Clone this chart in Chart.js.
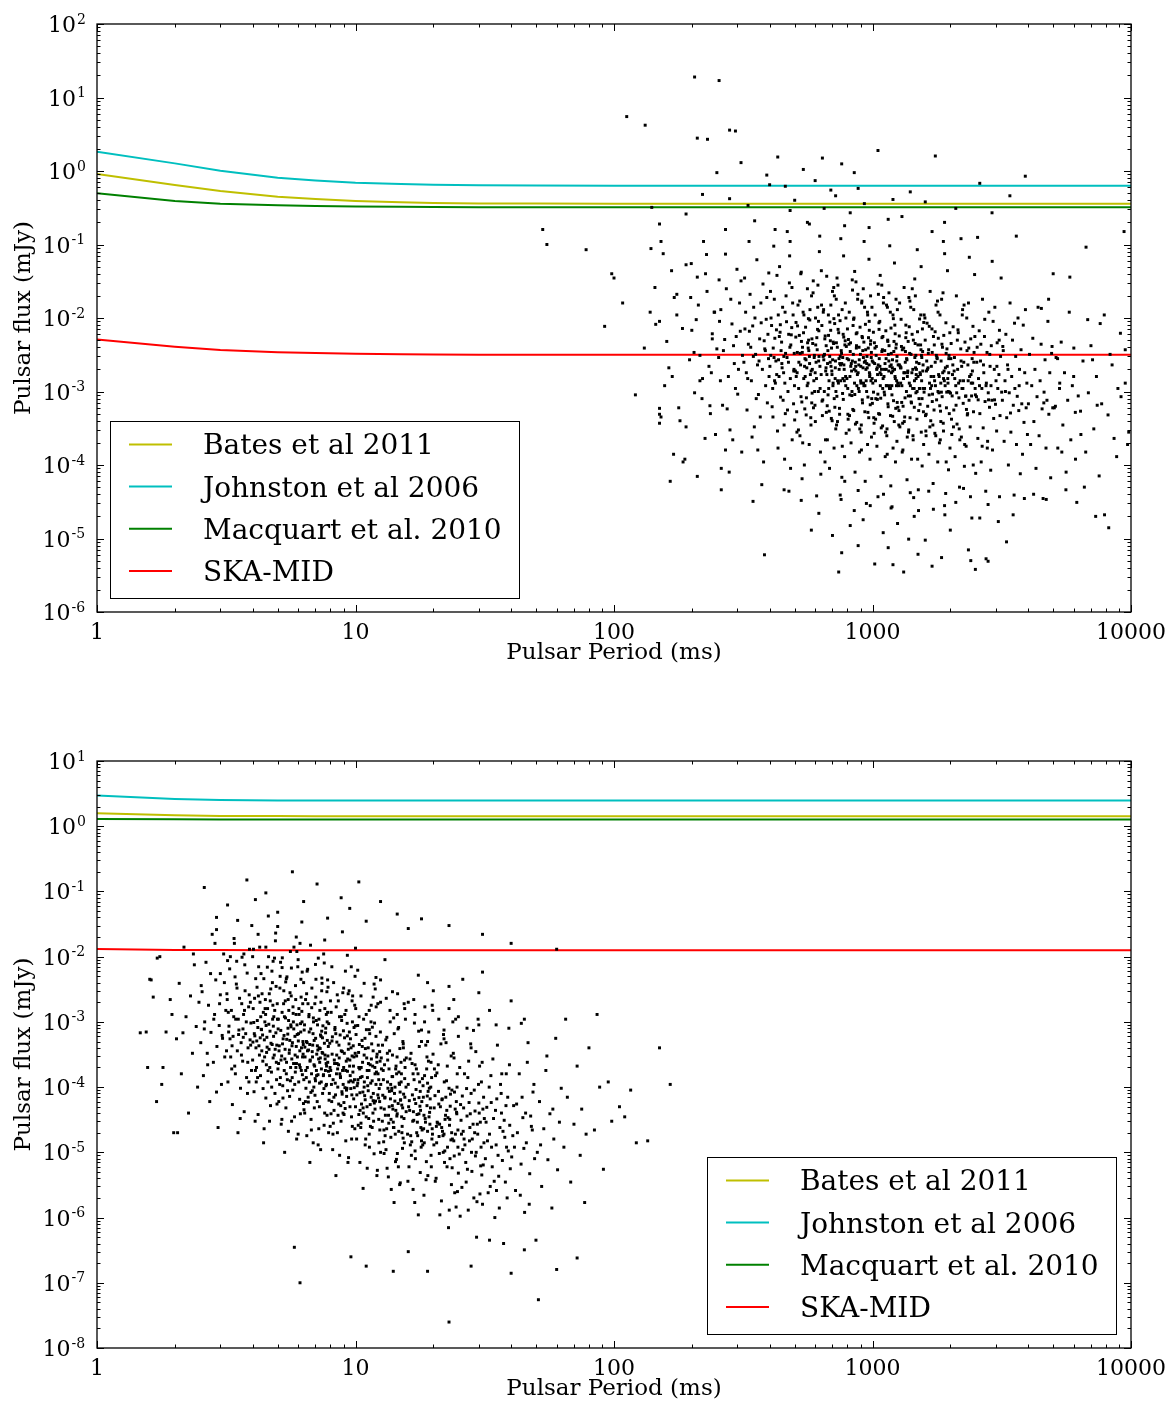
<!DOCTYPE html>
<html lang="en">
<head>
    <meta charset="UTF-8">
    <title>Pulsar flux vs period</title>
    <script src="https://cdn.jsdelivr.net/npm/chart.js"></script>
    <style>
        body { margin: 0; background: #fff; }
        .panel { position: absolute; left: 0; width: 1176px; }
        #topPanel { top: 0; height: 700px; }
        #bottomPanel { top: 700px; height: 703px; }
    </style>
</head>
<body>
    <div class="panel" id="topPanel"><canvas id="topChart" width="1176" height="700"></canvas></div>
    <div class="panel" id="bottomPanel"><canvas id="bottomChart" width="1176" height="703"></canvas></div>

    <script>
        // sensitivity curves, sampled at these periods (ms)
        const periods = [1, 2, 3, 5, 7, 10, 15, 20, 30, 50, 100, 10000];

        const topBates = [0.91, 0.645, 0.535, 0.447, 0.416, 0.391, 0.375, 0.367, 0.362, 0.36, 0.359, 0.358];
        const topJohnston = [1.83, 1.27, 1.01, 0.81, 0.74, 0.69, 0.665, 0.65, 0.64, 0.635, 0.632, 0.63];
        const topMacquart = [0.497, 0.391, 0.359, 0.341, 0.335, 0.33, 0.326, 0.324, 0.322, 0.321, 0.321, 0.32];
        const topSka = [5.1e-3, 4.07e-3, 3.67e-3, 3.41e-3, 3.33e-3, 3.27e-3, 3.21e-3, 3.18e-3, 3.16e-3, 3.15e-3, 3.15e-3, 3.15e-3];

        const bottomBates = [1.58, 1.47, 1.44, 1.43, 1.42, 1.42, 1.42, 1.42, 1.42, 1.42, 1.42, 1.42];
        const bottomJohnston = [2.95, 2.62, 2.53, 2.49, 2.48, 2.47, 2.47, 2.47, 2.47, 2.47, 2.47, 2.47];
        const bottomMacquart = [1.29, 1.275, 1.27, 1.27, 1.27, 1.27, 1.27, 1.27, 1.27, 1.27, 1.27, 1.27];
        const bottomSka = [0.0131, 0.0127, 0.0126, 0.0125, 0.0125, 0.0125, 0.0125, 0.0125, 0.0125, 0.0125, 0.0125, 0.0125];

        const legendLabels = ['Bates et al 2011', 'Johnston et al 2006', 'Macquart et al. 2010', 'SKA-MID'];
        const xDecades = [1, 10, 100, 1000, 10000];

        // simulated pulsars [period ms, flux mJy], upper panel
        const topPulsars = [
            [108,1.6e-2],[121,9.0e-4],[131,3.9e-3],[144,2.6e-2],[152,4.5e-4],[139,8.8e-2],[157,1.2e-3],
            [163,2.1e-3],[171,1.9e-2],[178,6.0e-4],[184,7.2e-3],[190,3.3e-4],[167,4.4e-2],[196,2.7e-3],[175,1.1e-2],[188,1.2e-4],[199,5.5e-2],
            [204,3.4e-3],[212,1.5e-2],[219,8.0e-4],[226,4.0e-2],[233,2.2e-3],[240,6.1e-3],[247,2.6e-4],[208,9.5e-3],[215,1.4e-3],[229,2.3e-2],
            [236,5.0e-4],[244,1.2e-2],[250,3.8e-3],[222,1.1e-1],[210,7.0e-5],[238,1.8e-3],
            [254,2.9e-3],[259,1.3e-2],[263,6.5e-4],[268,5.1e-3],[272,2.5e-2],[277,1.6e-3],[281,3.0e-4],[286,8.3e-3],[290,4.2e-3],[295,1.1e-3],
            [299,4.6e-2],[303,2.0e-3],[308,6.6e-3],[312,1.5e-4],[256,9.0e-3],[265,3.6e-3],[274,5.8e-4],[283,1.8e-2],[292,2.4e-3],[301,9.2e-4],
            [310,3.2e-2],[258,1.4e-3],[270,7.4e-2],[288,2.2e-4],[297,5.6e-3],[306,1.6e-2],[314,3.1e-3],[279,8.0e-5],
            [318,2.5e-3],[323,1.2e-2],[327,5.6e-4],[331,4.4e-3],[336,2.1e-2],[340,1.4e-3],[344,7.8e-3],[349,3.3e-4],[353,3.2e-3],[357,6.2e-2],
            [362,9.1e-4],[366,5.2e-3],[370,1.6e-2],[375,2.0e-3],[379,1.1e-4],[383,3.8e-3],[388,9.6e-3],[392,7.0e-4],[396,2.8e-3],[320,3.5e-2],
            [325,1.8e-3],[334,6.6e-3],[342,2.4e-4],[351,1.0e-2],[359,2.3e-3],[368,4.5e-4],[377,2.9e-2],[386,1.2e-3],[394,6.0e-3],[329,1.5e-3],
            [338,4.0e-3],[347,1.4e-2],[355,8.0e-4],[364,2.6e-3],[373,5.4e-5],[381,4.9e-3],[390,1.9e-2],[398,1.6e-3],[321,7.1e-3],[333,1.1e-1],
            [346,3.0e-3],[360,1.6e-4],[371,8.6e-3],[385,3.6e-3],[397,4.1e-2],
            [401,2.2e-3],[405,1.0e-2],[409,6.2e-4],[413,3.9e-3],[417,1.8e-2],[421,1.3e-3],[425,6.9e-3],[429,2.9e-4],[433,2.7e-3],[437,5.0e-2],
            [441,8.4e-4],[445,4.7e-3],[449,1.4e-2],[453,1.8e-3],[457,1.2e-4],[461,3.3e-3],[465,8.9e-3],[469,5.6e-4],[473,2.5e-3],[477,3.0e-2],
            [481,1.5e-3],[485,5.9e-3],[489,2.2e-4],[493,1.1e-2],[497,2.0e-3],[500,4.1e-4],[403,2.3e-2],[411,1.1e-3],[419,5.3e-3],[427,3.8e-2],
            [435,1.6e-3],[443,3.6e-3],[451,7.6e-4],[459,1.2e-2],[467,2.9e-3],[475,4.4e-5],[483,4.3e-3],[491,1.6e-2],[499,1.2e-3],[407,7.9e-3],
            [415,9.5e-2],[423,2.6e-3],[431,1.7e-4],[439,6.4e-3],[447,2.1e-3],[455,3.5e-4],[463,2.0e-2],[471,1.0e-3],[479,4.0e-3],[487,7.4e-3],
            [495,6.8e-4],[404,3.1e-3],[418,1.4e-3],[432,1.1e-2],[446,2.4e-3],[460,5.0e-4],[474,6.0e-3],[488,2.6e-2],[498,3.3e-3],[412,4.5e-4],
            [426,1.7e-3],[440,8.1e-3],[454,3.0e-3],[468,1.5e-1],[482,9.0e-5],[496,1.9e-3],[416,2.9e-3],[436,5.6e-3],[458,1.3e-3],[478,7.0e-2],
            [503,1.9e-3],[506,8.7e-3],[509,5.3e-4],[512,3.4e-3],[515,1.5e-2],[518,1.1e-3],[521,5.8e-3],[524,2.5e-4],[527,2.3e-3],[530,4.2e-2],
            [533,7.2e-4],[536,4.0e-3],[539,1.2e-2],[542,1.5e-3],[545,1.0e-4],[548,2.8e-3],[551,7.5e-3],[554,4.8e-4],[557,2.1e-3],[560,2.5e-2],
            [563,1.3e-3],[566,5.0e-3],[569,1.9e-4],[572,9.4e-3],[575,1.7e-3],[578,3.5e-4],[581,2.0e-2],[584,9.5e-4],[587,4.5e-3],[590,3.2e-2],
            [593,1.4e-3],[596,3.1e-3],[599,6.5e-4],[602,1.0e-2],[605,2.5e-3],[608,3.8e-5],[611,3.7e-3],[614,1.4e-2],[617,1.0e-3],[620,6.7e-3],
            [623,8.0e-2],[626,2.2e-3],[629,1.5e-4],[505,5.5e-3],[511,1.8e-3],[517,3.0e-4],[523,1.7e-2],[529,8.5e-4],[535,3.4e-3],[541,6.3e-3],
            [547,5.8e-4],[553,2.7e-3],[559,1.2e-3],[565,9.8e-3],[571,2.4e-3],[577,4.4e-4],[583,5.2e-3],[589,2.2e-2],[595,2.9e-3],[601,3.9e-4],
            [607,1.5e-3],[613,7.0e-3],[619,2.6e-3],[625,1.3e-1],[631,7.5e-5],[507,1.6e-3],[519,2.5e-3],[531,4.8e-3],[543,1.1e-2],[555,8.2e-4],
            [567,3.6e-3],[579,1.9e-3],[591,6.0e-4],[603,4.3e-3],[615,2.8e-2],[627,1.1e-3],[513,7.8e-3],[525,3.3e-3],[537,2.0e-4],[549,1.6e-3],
            [561,4.6e-3],[573,1.3e-2],[585,2.0e-3],[597,1.0e-3],[609,5.4e-3],[621,3.0e-3],[510,2.8e-4],[528,4.0e-2],[546,2.2e-3],[564,3.9e-3],
            [582,7.0e-4],[600,1.8e-3],[618,9.0e-3],[534,6.5e-5],[570,3.0e-3],
            [633,1.7e-3],[637,7.9e-3],[640,4.7e-4],[644,3.0e-3],[647,1.3e-2],[651,1.0e-3],[654,5.2e-3],[658,2.2e-4],[661,2.1e-3],[665,3.7e-2],
            [668,6.4e-4],[672,3.6e-3],[675,1.1e-2],[679,1.4e-3],[682,9.0e-5],[686,2.5e-3],[689,6.8e-3],[693,4.3e-4],[696,1.9e-3],[700,2.3e-2],
            [703,1.2e-3],[707,4.5e-3],[710,1.7e-4],[714,8.4e-3],[717,1.5e-3],[721,3.1e-4],[724,1.8e-2],[728,8.6e-4],[731,4.0e-3],[735,2.8e-2],
            [738,1.3e-3],[742,2.8e-3],[745,5.9e-4],[749,9.2e-3],[752,2.3e-3],[756,3.4e-5],[759,3.3e-3],[763,1.3e-2],[766,9.4e-4],[770,6.0e-3],
            [773,7.0e-2],[777,2.0e-3],[780,1.3e-4],[784,4.9e-3],[787,1.6e-3],[791,2.7e-4],[635,1.5e-2],[642,7.7e-4],[649,3.1e-3],[656,5.7e-3],
            [663,5.2e-4],[670,2.4e-3],[677,1.1e-3],[684,8.8e-3],[691,2.2e-3],[698,4.0e-4],[705,4.7e-3],[712,2.0e-2],[719,2.6e-3],[726,3.5e-4],
            [733,1.4e-3],[740,6.3e-3],[747,2.4e-3],[754,1.2e-1],[761,6.8e-5],[768,1.5e-3],[775,2.3e-3],[782,4.3e-3],[789,1.0e-2],[638,7.4e-4],
            [652,3.2e-3],[666,1.7e-3],[680,5.4e-4],[694,3.9e-3],[708,2.6e-2],[722,1.0e-3],[736,7.0e-3],[750,3.0e-3],[764,1.8e-4],[778,1.4e-3],
            [792,4.1e-3],[645,1.2e-2],[659,1.9e-3],[673,9.0e-4],[687,4.9e-3],[701,2.7e-3],[715,6.1e-4],[729,3.5e-2],[743,2.0e-3],[757,3.6e-3],
            [771,7.8e-4],[785,1.6e-2],[648,2.7e-3],[676,5.8e-3],[704,1.3e-3],[732,3.9e-4],[760,2.4e-3],[788,1.2e-3],[662,4.2e-3],[690,1.5e-2],
            [718,2.1e-3],[746,4.9e-4],[774,5.5e-3],[655,1.1e-4],[683,3.0e-3],[711,8.0e-4],[739,1.1e-2],[767,2.9e-3],[634,4.4e-2],[781,6.0e-5],
            [697,1.7e-3],[725,4.6e-3],[753,1.4e-3],[669,2.2e-4],[709,9.8e-3],
            [796,1.5e-3],[800,7.1e-3],[805,4.2e-4],[809,2.7e-3],[813,1.2e-2],[817,9.0e-4],[822,4.6e-3],[826,2.0e-4],[830,1.9e-3],[835,3.3e-2],
            [839,5.7e-4],[843,3.2e-3],[848,1.0e-2],[852,1.3e-3],[856,8.0e-5],[861,2.2e-3],[865,6.1e-3],[869,3.8e-4],[874,1.7e-3],[878,2.1e-2],
            [882,1.1e-3],[887,4.0e-3],[891,1.5e-4],[895,7.5e-3],[900,1.4e-3],[904,2.8e-4],[908,1.6e-2],[913,7.7e-4],[917,3.6e-3],[921,2.5e-2],
            [926,1.2e-3],[930,2.5e-3],[934,5.3e-4],[939,8.2e-3],[943,2.0e-3],[947,3.0e-5],[952,3.0e-3],[956,1.2e-2],[960,8.4e-4],[965,5.4e-3],
            [969,6.3e-2],[973,1.8e-3],[978,1.2e-4],[982,4.4e-3],[986,1.4e-3],[991,2.4e-4],[995,1.4e-2],[999,6.9e-4],[798,2.8e-3],[807,5.1e-3],
            [815,4.7e-4],[824,2.2e-3],[833,1.0e-3],[841,7.9e-3],[850,2.0e-3],[859,3.6e-4],[867,4.2e-3],[876,1.8e-2],[885,2.3e-3],[893,3.1e-4],
            [902,1.3e-3],[911,5.6e-3],[919,2.1e-3],[928,1.1e-1],[937,6.0e-5],[945,1.4e-3],[954,2.1e-3],[963,3.9e-3],[971,9.0e-3],[980,6.6e-4],
            [989,2.9e-3],[997,1.5e-3],[803,4.9e-4],[820,3.5e-3],[837,2.4e-2],[854,9.1e-4],[871,6.3e-3],[889,2.7e-3],[906,1.6e-4],[923,1.3e-3],
            [941,3.7e-3],[958,1.1e-2],[976,1.7e-3],[993,8.0e-4],[811,4.4e-3],[828,2.4e-3],[846,5.5e-4],[863,3.1e-2],[880,1.8e-3],[898,3.2e-3],
            [915,7.0e-4],[932,1.4e-2],[950,2.4e-3],[967,4.4e-4],[984,4.9e-3],[802,1.1e-3],[836,2.6e-3],[870,1.2e-3],[905,3.5e-4],[938,2.6e-3],
            [972,6.8e-3],[818,1.6e-3],[853,4.3e-2],[888,1.0e-3],[922,2.9e-3],[957,1.9e-4],[990,3.4e-3],[832,8.8e-4],[866,3.9e-3],[901,2.2e-3],
            [935,1.2e-3],[970,2.3e-3],[845,9.6e-3],[880,4.5e-5],[914,5.4e-3],[949,1.0e-3],[983,2.0e-2],[812,3.0e-4],[862,1.9e-3],[926,4.7e-3],
            [975,1.6e-3],[858,2.5e-3],[910,1.7e-2],[960,5.2e-4],[998,2.6e-3],
            [1003,1.3e-3],[1008,6.4e-3],[1014,3.7e-4],[1019,2.4e-3],[1024,1.1e-2],[1030,8.0e-4],[1035,4.1e-3],[1040,1.8e-4],[1046,1.7e-3],[1051,2.9e-2],
            [1056,5.0e-4],[1062,2.8e-3],[1067,9.0e-3],[1072,1.2e-3],[1078,7.0e-5],[1083,2.0e-3],[1088,5.4e-3],[1094,3.4e-4],[1099,1.5e-3],[1104,1.9e-2],
            [1110,9.8e-4],[1115,3.6e-3],[1120,1.3e-4],[1126,6.7e-3],[1131,1.2e-3],[1136,2.5e-4],[1142,1.4e-2],[1147,6.8e-4],[1152,3.2e-3],[1158,2.2e-2],
            [1163,1.1e-3],[1168,2.2e-3],[1174,4.7e-4],[1179,7.3e-3],[1184,1.8e-3],[1190,2.7e-5],[1195,2.7e-3],[1200,1.1e-2],[1206,7.5e-4],[1211,4.8e-3],
            [1216,5.6e-2],[1222,1.6e-3],[1227,1.1e-4],[1232,3.9e-3],[1238,1.2e-3],[1243,2.1e-4],[1248,1.3e-2],[1254,6.1e-4],[1006,2.5e-3],[1017,4.6e-3],
            [1028,4.2e-4],[1038,2.0e-3],[1049,9.2e-4],[1060,7.0e-3],[1070,1.8e-3],[1081,3.2e-4],[1092,3.7e-3],[1102,1.6e-2],[1113,2.0e-3],[1124,2.8e-4],
            [1134,1.2e-3],[1145,5.0e-3],[1156,1.9e-3],[1166,9.6e-2],[1177,5.2e-5],[1188,1.2e-3],[1198,1.9e-3],[1209,3.5e-3],[1220,8.0e-3],[1230,5.9e-4],
            [1241,2.6e-3],[1252,1.3e-3],[1011,4.4e-4],[1033,3.1e-3],[1054,2.1e-2],[1076,8.1e-4],[1097,5.6e-3],[1118,2.4e-3],[1140,1.4e-4],[1161,1.2e-3],
            [1182,3.3e-3],[1204,9.8e-3],[1225,1.5e-3],[1246,7.1e-4],[1022,3.9e-3],[1043,2.1e-3],[1065,4.9e-4],[1086,2.8e-2],[1108,1.6e-3],[1129,2.8e-3],
            [1150,6.2e-4],[1172,1.2e-2],[1193,2.1e-3],[1214,3.9e-4],[1236,4.4e-3],[1009,9.8e-4],[1052,2.3e-3],[1095,1.1e-3],[1138,3.1e-4],[1181,2.3e-3],
            [1224,6.1e-3],[1027,1.4e-3],[1071,3.8e-2],[1114,9.0e-4],[1157,2.6e-3],[1201,1.7e-4],[1244,3.0e-3],[1044,7.8e-4],[1087,3.5e-3],[1130,2.0e-3],
            [1173,1.1e-3],[1217,2.0e-3],[1059,8.6e-3],[1103,4.0e-5],[1146,4.8e-3],[1189,9.0e-4],[1233,1.8e-2],[1015,2.7e-4],[1079,1.7e-3],[1159,4.2e-3],
            [1240,1.4e-3],[1068,2.2e-3],[1133,1.5e-2],[1197,4.6e-4],[1257,2.3e-3],
            [1262,1.2e-3],[1269,5.7e-3],[1276,3.3e-4],[1283,2.1e-3],[1290,9.6e-3],[1297,7.1e-4],[1304,3.7e-3],[1311,1.6e-4],[1318,1.5e-3],[1325,2.6e-2],
            [1332,4.5e-4],[1339,2.5e-3],[1346,8.0e-3],[1353,1.0e-3],[1360,6.3e-5],[1367,1.8e-3],[1374,4.8e-3],[1381,3.0e-4],[1388,1.3e-3],[1395,1.7e-2],
            [1402,8.7e-4],[1409,3.2e-3],[1416,1.2e-4],[1423,6.0e-3],[1430,1.1e-3],[1437,2.2e-4],[1444,1.3e-2],[1451,6.1e-4],[1458,2.9e-3],[1465,2.0e-2],
            [1472,9.6e-4],[1479,2.0e-3],[1486,4.2e-4],[1493,6.5e-3],[1500,1.6e-3],[1507,2.4e-5],[1514,2.4e-3],[1521,9.7e-3],[1528,6.7e-4],[1535,4.3e-3],
            [1542,5.0e-2],[1549,1.4e-3],[1556,9.7e-5],[1563,3.5e-3],[1570,1.1e-3],[1577,1.9e-4],[1584,1.1e-2],[1266,5.5e-4],[1280,2.2e-3],[1294,4.1e-3],
            [1308,3.7e-4],[1322,1.8e-3],[1336,8.2e-4],[1350,6.3e-3],[1364,1.6e-3],[1378,2.8e-4],[1392,3.3e-3],[1406,1.4e-2],[1420,1.8e-3],[1434,2.5e-4],
            [1448,1.1e-3],[1462,4.5e-3],[1476,1.7e-3],[1490,8.5e-2],[1504,4.6e-5],[1518,1.1e-3],[1532,1.7e-3],[1546,3.1e-3],[1560,7.1e-3],[1574,5.3e-4],
            [1271,2.3e-3],[1299,1.2e-3],[1327,3.9e-4],[1355,2.8e-3],[1383,1.9e-2],[1411,7.2e-4],[1439,5.0e-3],[1467,2.1e-3],[1495,1.2e-4],[1523,1.1e-3],
            [1551,2.9e-3],[1579,8.7e-3],[1285,1.3e-3],[1313,6.3e-4],[1341,3.5e-3],[1369,1.9e-3],[1397,4.4e-4],[1425,2.5e-2],[1453,1.4e-3],[1481,2.5e-3],
            [1509,5.5e-4],[1537,1.1e-2],[1565,1.9e-3],[1264,3.5e-4],[1320,3.9e-3],[1376,8.7e-4],[1432,2.0e-3],[1488,1.0e-3],[1544,2.8e-4],[1289,2.1e-3],
            [1345,5.4e-3],[1401,1.2e-3],[1457,3.4e-2],[1513,8.0e-4],[1569,2.3e-3],[1303,1.5e-4],[1359,2.7e-3],[1415,7.0e-4],[1471,3.1e-3],[1527,1.8e-3],
            [1583,9.8e-4],[1331,1.8e-3],[1387,7.6e-3],[1443,3.6e-5],[1499,4.3e-3],[1555,8.0e-4],[1273,1.6e-2],[1363,2.4e-4],[1475,1.5e-3],[1540,3.7e-3],
            [1590,1.1e-3],[1599,5.0e-3],[1608,2.9e-4],[1617,1.9e-3],[1626,8.5e-3],[1635,6.3e-4],[1644,3.3e-3],[1653,1.4e-4],[1662,1.3e-3],[1671,2.3e-2],
            [1680,4.0e-4],[1689,2.2e-3],[1698,7.1e-3],[1707,9.2e-4],[1716,5.6e-5],[1725,1.6e-3],[1734,4.3e-3],[1743,2.7e-4],[1752,1.2e-3],[1761,1.5e-2],
            [1770,7.7e-4],[1779,2.8e-3],[1788,1.1e-4],[1797,5.3e-3],[1806,9.6e-4],[1815,2.0e-4],[1824,1.1e-2],[1833,5.4e-4],[1842,2.6e-3],[1851,1.8e-2],
            [1860,8.5e-4],[1869,1.8e-3],[1878,3.7e-4],[1887,5.8e-3],[1896,1.4e-3],[1905,2.1e-5],[1914,2.1e-3],[1923,8.6e-3],[1932,6.0e-4],[1941,3.8e-3],
            [1950,4.4e-2],[1959,1.3e-3],[1968,8.6e-5],[1977,3.1e-3],[1986,9.8e-4],[1994,1.7e-4],[1595,1.0e-2],[1613,4.9e-4],[1631,2.0e-3],[1649,3.7e-3],
            [1667,3.3e-4],[1685,1.6e-3],[1703,7.3e-4],[1721,5.6e-3],[1739,1.4e-3],[1757,2.5e-4],[1775,2.9e-3],[1793,1.2e-2],[1811,1.6e-3],[1829,2.2e-4],
            [1847,9.8e-4],[1865,4.0e-3],[1883,1.5e-3],[1901,7.5e-2],[1919,4.1e-5],[1937,9.8e-4],[1955,1.5e-3],[1973,2.8e-3],[1991,6.3e-3],[1603,4.7e-4],
            [1640,2.1e-3],[1676,1.1e-3],[1712,3.5e-4],[1748,2.5e-3],[1784,1.7e-2],[1820,6.4e-4],[1856,4.4e-3],[1892,1.9e-3],[1928,1.1e-4],[1964,1.0e-3],
            [1621,2.6e-3],[1658,7.7e-3],[1694,1.2e-3],[1730,5.6e-4],[1766,3.1e-3],[1802,1.7e-3],[1838,3.9e-4],[1874,2.2e-2],[1910,1.2e-3],[1946,2.2e-3],
            [1612,2.5e-4],[1702,3.4e-3],[1792,1.0e-3],[1882,2.9e-4],[1972,1.8e-3],[1657,9.0e-4],[1747,6.5e-3],[1837,1.3e-3],[1927,3.3e-3],[1982,5.0e-4],
            [2003,9.5e-4],[2015,4.5e-3],[2027,2.6e-4],[2039,1.7e-3],[2051,7.6e-3],[2063,5.6e-4],[2075,2.9e-3],[2087,1.3e-4],[2099,1.2e-3],[2111,2.0e-2],
            [2123,3.6e-4],[2135,2.0e-3],[2147,6.3e-3],[2159,8.2e-4],[2171,5.0e-5],[2183,1.4e-3],[2195,3.8e-3],[2207,2.4e-4],[2219,1.1e-3],[2231,1.3e-2],
            [2243,6.9e-4],[2255,2.5e-3],[2267,9.6e-5],[2279,4.7e-3],[2291,8.6e-4],[2303,1.8e-4],[2315,1.0e-2],[2327,4.8e-4],[2339,2.3e-3],[2351,1.6e-2],
            [2363,7.6e-4],[2375,1.6e-3],[2387,3.3e-4],[2399,5.2e-3],[2411,1.3e-3],[2423,1.9e-5],[2435,1.9e-3],[2447,7.7e-3],[2459,5.3e-4],[2471,3.4e-3],
            [2483,3.9e-2],[2495,1.1e-3],[2507,7.7e-5],[2009,2.8e-3],[2033,8.7e-4],[2057,3.3e-4],[2081,1.5e-3],[2105,6.5e-4],[2129,5.0e-3],[2153,1.3e-3],
            [2177,2.2e-4],[2201,2.6e-3],[2225,1.1e-2],[2249,1.4e-3],[2273,1.9e-4],[2297,8.7e-4],[2321,3.6e-3],[2345,1.4e-3],[2369,6.7e-2],[2393,3.7e-5],
            [2417,8.7e-4],[2441,1.3e-3],[2465,2.5e-3],[2489,5.6e-3],[2021,4.2e-4],[2069,1.9e-3],[2117,9.6e-4],[2165,3.1e-4],[2213,2.2e-3],[2261,1.5e-2],
            [2309,5.7e-4],[2357,3.9e-3],[2405,1.7e-3],[2453,1.0e-4],[2501,9.0e-4],[2045,2.3e-3],[2141,6.9e-3],[2237,1.1e-3],[2333,5.0e-4],[2429,2.8e-3],
            [2525,8.5e-4],[2540,4.0e-3],[2556,2.3e-4],[2571,1.5e-3],[2587,6.7e-3],[2602,5.0e-4],[2618,2.6e-3],[2633,1.1e-4],[2649,1.1e-3],[2664,1.8e-2],
            [2680,3.2e-4],[2695,1.8e-3],[2711,5.6e-3],[2726,7.3e-4],[2742,4.4e-5],[2757,1.3e-3],[2773,3.4e-3],[2788,2.1e-4],[2804,9.6e-4],[2819,1.2e-2],
            [2835,6.1e-4],[2850,2.2e-3],[2866,8.5e-5],[2881,4.2e-3],[2897,7.6e-4],[2912,1.6e-4],[2928,9.0e-3],[2943,4.3e-4],[2959,2.0e-3],[2974,1.4e-2],
            [2990,6.7e-4],[3005,1.4e-3],[3021,2.9e-4],[3036,4.6e-3],[3052,1.1e-3],[3067,1.7e-5],[3083,1.7e-3],[3098,6.8e-3],[3114,4.7e-4],[3129,3.0e-3],
            [3145,3.5e-2],[3160,9.8e-4],[2532,2.5e-3],[2563,7.7e-4],[2594,1.2e-3],[2625,4.4e-3],[2656,1.8e-4],[2687,2.3e-3],[2718,9.6e-3],[2749,1.2e-3],
            [2780,1.7e-4],[2811,7.7e-4],[2842,3.2e-3],[2873,1.2e-3],[2904,5.9e-2],[2966,7.7e-4],[3028,2.2e-3],[3090,5.0e-3],
            [3180,7.6e-4],[3205,3.6e-3],[3230,2.1e-4],[3255,1.4e-3],[3280,6.0e-3],[3305,4.4e-4],[3330,2.3e-3],[3355,1.0e-4],[3380,9.6e-4],[3405,1.6e-2],
            [3430,2.8e-4],[3455,1.6e-3],[3480,5.0e-3],[3505,6.5e-4],[3530,3.9e-5],[3555,1.1e-3],[3580,3.0e-3],[3605,1.9e-4],[3630,8.6e-4],[3655,1.0e-2],
            [3680,5.5e-4],[3705,2.0e-3],[3730,7.6e-5],[3755,3.7e-3],[3780,6.8e-4],[3805,1.4e-4],[3830,8.0e-3],[3855,3.8e-4],[3880,1.8e-3],[3905,1.3e-2],
            [3930,6.0e-4],[3955,1.3e-3],[3975,2.6e-4],[3192,4.1e-3],[3268,1.0e-3],[3343,2.0e-3],[3418,5.1e-4],[3543,8.5e-3],[3693,1.2e-3],[3868,3.5e-5],
            [4010,6.8e-4],[4050,3.2e-3],[4090,1.9e-4],[4130,1.2e-3],[4170,5.3e-3],[4210,3.9e-4],[4250,2.0e-3],[4290,9.0e-5],[4330,8.5e-4],[4370,1.4e-2],
            [4410,2.5e-4],[4450,1.4e-3],[4490,4.4e-3],[4530,5.8e-4],[4570,3.5e-5],[4610,9.8e-4],[4650,2.7e-3],[4690,1.7e-4],[4730,7.6e-4],[4770,9.0e-3],
            [4810,4.9e-4],[4850,1.8e-3],[4890,6.7e-5],[4930,3.3e-3],[4980,6.0e-4],
            [5050,6.0e-4],[5130,2.9e-3],[5210,1.7e-4],[5290,1.1e-3],[5370,4.7e-3],[5450,3.5e-4],[5530,1.8e-3],[5610,8.0e-5],[5690,7.6e-4],[5770,1.2e-2],
            [5850,2.2e-4],[5930,1.2e-3],[6010,3.9e-3],[6090,5.2e-4],[6170,3.1e-5],[6250,8.7e-4],
            [6380,5.4e-4],[6520,2.6e-3],[6680,1.5e-4],[6840,9.6e-4],[7000,4.2e-3],[7180,3.1e-4],[7350,1.6e-3],[7530,7.1e-5],[7700,6.8e-4],[7880,1.1e-2],
            [8150,4.8e-4],[8450,2.3e-3],[8800,1.3e-4],[9150,8.5e-4],[9500,3.7e-3],[9800,2.8e-4],
            [420,1.6e-1],[560,2.0e-1],[2200,1.2e-1],[1700,1.5e-1],[780,1.8e-1],[480,1.1e-1],[2550,1.25e-1],[1880,1.1e-1],
            [310,1.3],[460,0.62],[280,0.42],[540,1.05],[650,0.31],[390,0.88],[720,0.46],[820,0.27],[1050,1.9],[1400,0.52],
            [350,0.21],[600,0.74],[250,0.95],[930,0.36],[480,0.29],[1300,0.24],[1750,1.6],[220,0.48],[760,1.25],[2100,0.31],
            [430,1.55],[880,0.58],[1150,0.22],[330,0.34],[570,0.19],[2600,0.68],[3900,0.85],[190,0.26],[500,0.4],[690,0.55],
            [1600,0.38],[2900,0.27],[970,0.17],[400,0.65],[270,0.16],[850,0.95],[1200,0.41],[640,1.5],[3400,0.46],[1900,0.2],
            [980,2.8e-5],[1250,1.6e-5],[750,3.9e-5],[1600,9.5e-6],[2100,3.1e-5],[880,8.0e-6],[1400,4.2e-5],[620,2.2e-5],[1850,5.5e-6],[1100,1.2e-5],
            [2600,1.9e-5],[530,3.3e-5],[1720,2.5e-5],[1020,4.5e-6],[820,1.5e-5],[2350,7.0e-6],[1320,3.5e-6],[3100,3.7e-5],[700,1.1e-5],[1500,6.1e-6],
            [2750,5.3e-6],[1180,2.6e-5],[920,1.8e-5],[2000,1.3e-5],[1650,4.4e-5],[455,4.6e-5],[3500,2.1e-5],[760,6.4e-6],[1380,9.8e-6],[2250,4.8e-5],
            [1050,3.7e-5],[580,1.3e-5],[1900,2.8e-5],[2500,3.8e-6],[850,2.4e-5],[4200,4.0e-5],[1450,2.0e-5],[3300,9.0e-6],[1150,7.5e-6],[2800,2.9e-5],
            [175,2.1e-2],[160,4.8e-3],[205,9.6e-4],[190,5.3e-2],[225,2.3e-4],[245,1.2e-2],[168,1.6e-3],[215,3.1e-3],[155,7.5e-2],[235,6.4e-4],
            [198,1.9e-2],[180,4.0e-4],[260,9.0e-5],[210,3.6e-2],[150,9.0e-3],[240,5.2e-3],[185,1.1e-4],[228,7.3e-2],[270,1.6e-4],[200,6.8e-3],
            [170,1.4e-4],[255,3.3e-2],[150,4.9e-4],[220,1.5e-3],
            [5200,2.8e-3],[6100,1.2e-4],[4800,1.8e-2],[7400,6.5e-4],[5600,4.6e-5],[8300,3.2e-3],[4600,7.0e-4],[6800,9.5e-3],[5400,1.5e-4],[7900,2.1e-5],
            [4950,4.1e-3],[6400,2.6e-4],[8900,1.1e-3],[5800,3.6e-2],[7100,2.7e-3],[4700,3.4e-5],[6000,1.6e-3],[8600,2.3e-4],[5100,6.3e-4],[7600,8.4e-3],
            [6600,5.0e-5],[9100,6.2e-3],[5300,1.3e-3],[4500,1.35e-2],
            [205,19],[255,17],[112,5.5],[132,4.2],[210,2.8],[230,2.7],[280,3.6],[295,3.5],[53,0.16],[55,0.1],
            [78,0.085],[92,7.7e-3],[98,0.04],[100,0.035],[140,0.32],[150,0.19],[152,0.11],[138,1.2e-2],[145,8.2e-3],[150,3.7e-4],
            [150,5.9e-4],[165,6.0e-5],[260,4.6e-5],[345,3.2e-5],[382,6.0e-6],[740,3.5e-6],[1200,4.4e-6],[1700,4.2e-6],[2400,5.0e-6],[2800,4.9e-6],
            [7300,2.0e-5],[8200,1.4e-5],[9500,1.3e-3],[9700,1.9e-4],[6700,9.2e-2],[3600,1.3e-1],[5000,4.0e-2],[9400,0.15]
        ];

        // simulated pulsars [period ms, flux mJy], lower panel
        const bottomPulsars = [
            [1.47,6.8e-4],[1.57,2.0e-4],
            [1.62,4.4e-3],[1.71,9.5e-3],[1.78,1.1e-4],[1.85,7.0e-4],[1.92,2.2e-3],[1.98,2.0e-5],
            [2.03,5.5e-4],[2.08,3.9e-3],[2.12,1.6e-4],[2.17,1.4e-2],[2.21,1.2e-3],[2.26,4.0e-5],[2.30,2.5e-3],[2.34,3.3e-4],[2.38,7.5e-3],[2.42,8.5e-4],
            [2.45,1.0e-4],[2.48,2.0e-3],[2.15,6.8e-4],[2.36,1.1e-2],
            [2.52,4.8e-4],[2.55,2.9e-3],[2.58,1.5e-4],[2.61,1.0e-3],[2.64,8.2e-3],[2.67,3.3e-4],[2.70,1.8e-3],[2.73,6.0e-5],[2.76,6.9e-4],[2.79,2.2e-2],
            [2.82,2.4e-4],[2.85,1.3e-3],[2.88,4.4e-3],[2.91,4.2e-4],[2.94,2.4e-5],[2.97,8.8e-4],[3.00,2.6e-3],[3.03,1.1e-4],[3.06,5.6e-4],[3.09,1.1e-2],
            [3.12,2.9e-4],[3.15,1.5e-3],[2.53,3.6e-3],[2.60,7.8e-4],[2.68,2.2e-4],[2.75,5.5e-3],[2.83,1.1e-3],[2.90,8.4e-5],[2.98,1.9e-3],[3.05,6.2e-4],
            [3.11,4.0e-3],[2.86,1.6e-2],
            [3.17,3.6e-4],[3.19,2.2e-3],[3.21,1.2e-4],[3.24,8.6e-4],[3.26,6.5e-3],[3.29,2.9e-4],[3.31,1.5e-3],[3.34,5.4e-5],[3.36,6.0e-4],[3.39,1.9e-2],
            [3.41,2.1e-4],[3.44,1.1e-3],[3.46,3.8e-3],[3.49,3.6e-4],[3.51,2.0e-5],[3.54,7.5e-4],[3.56,2.3e-3],[3.59,9.6e-5],[3.61,4.8e-4],[3.64,9.8e-3],
            [3.66,2.5e-4],[3.69,1.3e-3],[3.71,4.2e-5],[3.74,3.0e-3],[3.76,6.6e-4],[3.79,1.4e-4],[3.81,5.6e-3],[3.84,4.0e-4],[3.86,1.7e-3],[3.89,1.3e-2],
            [3.91,5.3e-4],[3.94,9.6e-4],[3.96,1.8e-4],[3.18,2.7e-3],[3.23,7.0e-4],[3.28,1.0e-2],[3.33,4.3e-4],[3.38,1.2e-3],[3.43,1.6e-4],[3.48,3.3e-3],
            [3.53,6.4e-4],[3.58,3.3e-5],[3.63,1.9e-3],[3.68,5.8e-4],[3.73,7.5e-3],[3.78,1.0e-3],[3.83,2.4e-4],[3.88,2.6e-3],[3.93,4.4e-4],[3.97,3.0e-2],
            [3.22,1.4e-3],[3.32,1.9e-4],[3.42,4.9e-3],[3.52,1.1e-3],[3.62,3.1e-4],[3.72,1.5e-3],[3.82,8.0e-5],[3.92,2.0e-3],[3.27,5.5e-4],[3.47,8.5e-3],
            [3.67,7.8e-4],[3.87,1.2e-4],
            [4.00,2.6e-4],[4.02,1.6e-3],[4.05,8.5e-5],[4.08,6.1e-4],[4.11,4.6e-3],[4.14,2.0e-4],[4.17,1.05e-3],[4.20,3.8e-5],[4.23,4.3e-4],[4.26,1.4e-2],
            [4.29,1.5e-4],[4.32,7.7e-4],[4.35,2.7e-3],[4.38,2.5e-4],[4.41,1.4e-5],[4.44,5.3e-4],[4.47,1.6e-3],[4.50,6.8e-5],[4.53,3.4e-4],[4.56,6.9e-3],
            [4.59,1.8e-4],[4.62,9.2e-4],[4.65,3.0e-5],[4.68,2.1e-3],[4.71,4.7e-4],[4.74,1.0e-4],[4.77,4.0e-3],[4.80,2.8e-4],[4.83,1.2e-3],[4.86,9.5e-3],
            [4.89,3.8e-4],[4.92,6.8e-4],[4.95,1.3e-4],[4.98,1.9e-3],[4.01,4.9e-4],[4.07,2.3e-3],[4.13,1.2e-4],[4.19,8.2e-4],[4.25,3.1e-4],[4.31,5.5e-3],
            [4.37,6.3e-4],[4.43,2.3e-5],[4.49,1.3e-3],[4.55,4.1e-4],[4.61,1.0e-2],[4.67,7.2e-4],[4.73,1.7e-4],[4.79,1.8e-3],[4.85,3.1e-4],[4.91,2.3e-2],
            [4.97,5.5e-5],[4.04,9.8e-4],[4.16,3.4e-3],[4.28,5.7e-4],[4.40,1.4e-3],[4.52,2.2e-4],[4.64,2.7e-3],[4.76,4.5e-4],[4.88,8.0e-5],[4.99,1.1e-3],
            [4.10,1.8e-4],[4.22,7.0e-3],[4.34,3.6e-4],[4.46,1.0e-3],[4.58,1.2e-4],[4.70,3.2e-3],[4.82,6.0e-4],[4.94,2.4e-4],[4.03,1.3e-2],[4.15,5.1e-4],
            [4.27,2.0e-3],[4.39,9.5e-5],[4.51,8.8e-4],[4.63,3.8e-4],[4.75,6.0e-3],[4.87,1.5e-3],[4.96,4.4e-4],[4.09,3.0e-5],[4.21,2.5e-3],[4.33,7.6e-4],
            [4.45,2.9e-4],[4.57,1.6e-3],[4.69,5.2e-5],[4.81,8.6e-4],[4.93,3.5e-3],[4.06,6.6e-4],[4.18,1.4e-4],[4.30,1.2e-3],[4.42,4.6e-3],[4.54,5.8e-4],
            [4.66,2.0e-4],[4.78,1.1e-3],[4.90,1.75e-2],[4.12,4.0e-4],[4.48,2.2e-3],
            [5.01,1.9e-4],[5.03,1.1e-3],[5.05,6.0e-5],[5.07,4.3e-4],[5.10,3.3e-3],[5.12,1.4e-4],[5.14,7.4e-4],[5.16,2.7e-5],[5.18,3.0e-4],[5.21,9.6e-3],
            [5.23,1.05e-4],[5.25,5.5e-4],[5.27,1.9e-3],[5.30,1.8e-4],[5.32,1.0e-5],[5.34,3.8e-4],[5.36,1.15e-3],[5.38,4.8e-5],[5.41,2.4e-4],[5.43,4.9e-3],
            [5.45,1.3e-4],[5.47,6.5e-4],[5.50,2.1e-5],[5.52,1.5e-3],[5.54,3.3e-4],[5.56,7.2e-5],[5.58,2.8e-3],[5.61,2.0e-4],[5.63,8.4e-4],[5.65,6.7e-3],
            [5.67,2.7e-4],[5.70,4.8e-4],[5.72,9.0e-5],[5.74,1.35e-3],[5.76,2.3e-4],[5.78,1.4e-2],[5.81,3.5e-5],[5.83,6.0e-4],[5.85,1.7e-4],[5.87,2.2e-3],
            [5.90,4.2e-4],[5.92,1.6e-5],[5.94,9.0e-4],[5.96,2.9e-4],[5.98,7.0e-3],[6.01,5.1e-4],[6.03,1.2e-4],[6.05,1.3e-3],[6.07,2.2e-4],[6.10,1.6e-2],
            [6.12,3.9e-5],[6.14,7.0e-4],[6.16,2.4e-3],[6.18,4.0e-4],[6.21,1.0e-3],[6.23,1.55e-4],[6.25,1.9e-3],[6.27,3.2e-4],[6.29,5.6e-5],[5.02,7.8e-4],
            [5.06,3.6e-4],[5.11,5.0e-3],[5.15,2.6e-4],[5.20,1.4e-3],[5.24,6.8e-5],[5.29,6.2e-4],[5.33,2.7e-4],[5.37,4.1e-3],[5.42,5.4e-4],[5.46,8.8e-5],
            [5.51,1.05e-3],[5.55,3.7e-4],[5.60,1.25e-4],[5.64,2.5e-3],[5.68,4.3e-4],[5.73,1.7e-3],[5.77,7.8e-4],[5.82,1.1e-4],[5.86,3.6e-3],[5.91,2.3e-4],
            [5.95,6.4e-4],[6.00,1.9e-5],[6.04,1.6e-3],[6.09,3.6e-4],[6.13,9.4e-4],[6.17,1.8e-4],[6.22,5.8e-3],[6.26,5.0e-4],[5.04,2.3e-4],[5.13,8.2e-3],
            [5.22,4.6e-4],[5.31,1.2e-3],[5.40,1.6e-4],[5.49,2.2e-3],[5.57,5.2e-4],[5.66,3.0e-5],[5.75,1.0e-3],[5.84,3.1e-4],[5.93,1.2e-2],[6.02,6.6e-4],
            [6.11,2.0e-4],[6.20,1.45e-3],[6.28,4.5e-4],[5.09,1.1e-4],[5.28,3.0e-3],[5.48,8.0e-4],[5.69,1.4e-4],[5.89,1.3e-3],[6.08,6.5e-5],[6.24,2.9e-4],
            [5.35,2.1e-3],[5.62,9.0e-4],[5.88,2.0e-4],[6.15,4.5e-3],[5.19,3.2e-5],
            [6.31,1.3e-4],[6.33,7.5e-4],[6.36,4.0e-5],[6.38,2.9e-4],[6.41,2.2e-3],[6.43,9.6e-5],[6.46,5.0e-4],[6.48,1.8e-5],[6.51,2.0e-4],[6.53,6.4e-3],
            [6.56,7.0e-5],[6.58,3.7e-4],[6.61,1.3e-3],[6.63,1.2e-4],[6.66,7.0e-6],[6.68,2.6e-4],[6.71,7.8e-4],[6.73,3.2e-5],[6.76,1.6e-4],[6.78,3.3e-3],
            [6.81,8.8e-5],[6.83,4.4e-4],[6.86,1.4e-5],[6.88,1.0e-3],[6.91,2.2e-4],[6.93,4.8e-5],[6.96,1.9e-3],[6.98,1.35e-4],[7.01,5.6e-4],[7.03,4.5e-3],
            [7.06,1.8e-4],[7.08,3.2e-4],[7.11,6.0e-5],[7.13,9.0e-4],[7.16,1.55e-4],[7.18,9.5e-3],[7.21,2.3e-5],[7.23,4.0e-4],[7.26,1.15e-4],[7.28,1.5e-3],
            [7.31,2.8e-4],[7.33,1.1e-5],[7.36,6.0e-4],[7.38,1.9e-4],[7.41,4.7e-3],[7.43,3.4e-4],[7.46,8.0e-5],[7.48,8.7e-4],[7.51,1.5e-4],[7.53,1.1e-2],
            [7.56,2.6e-5],[7.58,4.7e-4],[7.61,1.6e-3],[7.63,2.7e-4],[7.66,6.8e-4],[7.68,1.05e-4],[7.71,1.3e-3],[7.73,2.1e-4],[7.76,3.7e-5],[7.78,5.2e-4],
            [7.81,2.4e-4],[7.83,3.4e-3],[7.86,1.75e-4],[7.88,9.4e-4],[6.32,4.5e-5],[6.37,4.1e-4],[6.42,1.8e-4],[6.47,2.7e-3],[6.52,3.6e-4],[6.57,5.9e-5],
            [6.62,7.0e-4],[6.67,2.5e-4],[6.72,8.3e-5],[6.77,1.65e-3],[6.82,2.9e-4],[6.87,1.15e-3],[6.92,5.2e-4],[6.97,7.5e-5],[7.02,2.4e-3],[7.07,1.5e-4],
            [7.12,4.3e-4],[7.17,1.3e-5],[7.22,1.1e-3],[7.27,2.4e-4],[7.32,6.3e-4],[7.37,1.2e-4],[7.42,3.9e-3],[7.47,3.3e-4],[7.52,1.55e-4],[7.57,8.0e-3],
            [7.62,3.1e-4],[7.67,8.0e-4],[7.72,1.1e-4],[7.77,1.0e-3],[7.82,3.0e-4],[7.87,2.0e-5],[6.35,9.0e-4],[6.45,1.4e-4],[6.55,1.9e-3],[6.65,4.5e-4],
            [6.75,2.2e-5],[6.85,6.6e-4],[6.95,2.1e-4],[7.05,1.05e-3],[7.15,3.7e-4],[7.25,5.0e-5],[7.35,2.0e-3],[7.45,5.7e-4],[7.55,9.5e-5],[7.65,1.8e-4],
            [7.75,2.9e-3],[7.85,4.2e-4],[6.40,6.0e-5],[6.60,1.2e-3],[6.80,3.5e-4],[7.00,1.25e-4],[7.20,2.7e-4],[7.40,7.2e-4],[7.60,4.0e-5],[7.80,1.4e-3],
            [6.50,4.8e-4],[6.90,1.0e-4],[7.30,3.9e-4],[7.70,2.3e-4],[7.90,6.3e-5],
            [7.92,8.0e-5],[7.95,4.7e-4],[7.98,2.5e-5],[8.02,1.8e-4],[8.05,1.4e-3],[8.09,6.0e-5],[8.12,3.2e-4],[8.16,1.1e-5],[8.19,1.3e-4],[8.23,4.0e-3],
            [8.26,4.4e-5],[8.30,2.3e-4],[8.33,8.2e-4],[8.37,7.6e-5],[8.40,4.4e-6],[8.44,1.6e-4],[8.47,4.9e-4],[8.51,2.0e-5],[8.54,1.0e-4],[8.58,2.1e-3],
            [8.61,5.5e-5],[8.65,2.8e-4],[8.68,9.0e-6],[8.72,6.3e-4],[8.75,1.4e-4],[8.79,3.0e-5],[8.82,1.2e-3],[8.86,8.5e-5],[8.89,3.5e-4],[8.93,2.8e-3],
            [8.96,1.1e-4],[9.00,2.0e-4],[9.03,3.8e-5],[9.07,5.7e-4],[9.10,9.8e-5],[9.14,6.0e-3],[9.17,1.5e-5],[9.21,2.5e-4],[9.24,7.2e-5],[9.28,9.5e-4],
            [9.31,1.75e-4],[9.35,7.0e-6],[9.38,3.8e-4],[9.42,1.2e-4],[9.45,3.0e-3],[9.49,2.1e-4],[9.52,5.0e-5],[9.56,5.5e-4],[9.59,9.5e-5],[9.63,7.0e-3],
            [9.66,1.6e-5],[9.70,3.0e-4],[9.73,1.0e-3],[9.77,1.7e-4],[9.80,4.3e-4],[9.84,6.6e-5],[9.87,8.2e-4],[9.91,1.3e-4],[9.94,2.3e-5],[9.97,3.3e-4],
            [7.94,1.5e-4],[8.00,2.1e-3],[8.07,1.1e-4],[8.14,5.9e-4],[8.21,2.8e-5],[8.28,2.6e-4],[8.35,1.15e-4],[8.42,1.7e-3],[8.49,2.3e-4],[8.56,3.7e-5],
            [8.63,4.4e-4],[8.70,1.6e-4],[8.77,5.2e-5],[8.84,1.05e-3],[8.91,1.8e-4],[8.98,7.3e-4],[9.05,3.3e-4],[9.12,4.7e-5],[9.19,1.5e-3],[9.26,9.6e-5],
            [9.33,2.7e-4],[9.40,8.3e-6],[9.47,7.0e-4],[9.54,1.5e-4],[9.61,4.0e-4],[9.68,7.6e-5],[9.75,2.5e-3],[9.82,2.1e-4],[9.89,9.8e-5],[9.96,5.0e-3],
            [7.97,2.0e-4],[8.11,5.1e-4],[8.25,7.0e-5],[8.39,6.6e-4],[8.53,1.9e-4],[8.67,1.2e-3],[8.81,3.6e-4],[8.95,4.0e-5],[9.09,1.3e-3],[9.23,9.0e-5],
            [9.37,2.7e-3],[9.51,2.6e-4],[9.65,3.5e-5],[9.79,1.2e-4],[9.93,1.8e-3],[8.04,3.9e-5],[8.32,7.6e-4],[8.60,2.2e-4],[8.88,7.8e-5],[9.16,1.8e-4],
            [9.44,4.6e-4],[9.72,2.5e-5],[9.99,8.7e-4],[8.46,3.1e-4],[8.74,1.45e-4],[9.02,5.8e-5],[9.30,6.1e-4],[9.58,1.25e-4],[9.86,2.9e-4],[8.18,1.9e-5],
            [10.0,5.0e-5],[10.1,3.0e-4],[10.1,1.6e-5],[10.2,1.15e-4],[10.2,8.8e-4],[10.3,3.8e-5],[10.3,2.0e-4],[10.4,7.0e-6],[10.4,8.2e-5],[10.5,2.5e-3],
            [10.5,2.8e-5],[10.6,1.45e-4],[10.6,5.2e-4],[10.7,4.8e-5],[10.7,2.8e-6],[10.8,1.0e-4],[10.8,3.1e-4],[10.9,1.3e-5],[10.9,6.4e-5],[11.0,1.3e-3],
            [11.0,3.5e-5],[11.1,1.8e-4],[11.1,5.7e-6],[11.2,4.0e-4],[11.2,8.8e-5],[11.3,1.9e-5],[11.3,7.6e-4],[11.4,5.4e-5],[11.4,2.2e-4],[11.5,1.8e-3],
            [11.5,7.0e-5],[11.6,1.25e-4],[11.6,2.4e-5],[11.7,3.6e-4],[11.7,6.2e-5],[11.8,3.8e-3],[11.8,9.5e-6],[11.9,1.6e-4],[11.9,4.6e-5],[12.0,6.0e-4],
            [12.0,1.1e-4],[12.1,4.4e-6],[12.1,2.4e-4],[12.2,7.6e-5],[12.2,1.9e-3],[12.3,1.3e-4],[12.3,3.2e-5],[12.4,3.5e-4],[12.4,6.0e-5],[12.5,4.4e-3],
            [12.5,1.0e-5],[12.6,1.9e-4],[10.05,6.4e-4],[10.15,1.05e-4],[10.25,2.6e-5],[10.35,4.5e-4],[10.45,1.4e-4],[10.55,5.5e-5],[10.65,2.4e-4],[10.75,1.1e-3],
            [10.85,7.4e-5],[10.95,1.6e-5],[11.05,2.8e-4],[11.15,1.05e-4],[11.25,3.3e-5],[11.35,6.6e-4],[11.45,1.15e-4],[11.55,4.6e-4],[11.65,2.1e-4],[11.75,3.0e-5],
            [11.85,9.6e-4],[11.95,6.1e-5],[12.05,1.7e-4],[12.15,5.3e-6],[12.25,4.4e-4],[12.35,9.5e-5],[12.45,2.5e-4],[12.55,4.8e-5],[10.02,1.6e-3],[10.22,1.3e-4],
            [10.42,4.4e-5],[10.62,4.2e-4],[10.82,1.2e-4],[11.02,7.6e-4],[11.22,2.3e-4],[11.42,2.5e-5],[11.62,8.3e-4],[11.82,5.7e-5],[12.02,1.7e-3],[12.22,1.6e-4],
            [12.42,2.2e-5],[10.12,7.6e-5],[10.32,1.2e-3],[10.52,2.0e-4],[10.72,4.0e-5],[10.92,3.9e-4],[11.12,1.4e-4],[11.32,1.2e-5],[11.52,2.7e-4],[11.72,8.0e-5],
            [11.92,3.2e-3],[12.12,3.2e-4],[12.32,1.4e-5],[12.52,1.1e-4],[10.48,2.4e-5],[10.88,5.6e-4],[11.28,1.8e-4],[11.68,4.0e-5],[12.08,2.9e-4],[12.48,7.0e-4],
            [10.28,3.4e-4],[10.68,8.4e-5],[11.08,5.0e-5],[11.48,1.0e-3],[11.88,2.0e-4],[12.28,6.8e-5],[12.58,2.8e-4],[10.38,1.9e-4],
            [12.7,3.0e-5],[12.8,1.8e-4],[12.9,9.6e-6],[13.0,7.0e-5],[13.1,5.3e-4],[13.2,2.3e-5],[13.3,1.2e-4],[13.4,4.2e-6],[13.5,5.0e-5],[13.6,1.5e-3],
            [13.7,1.7e-5],[13.8,8.8e-5],[13.9,3.1e-4],[14.0,2.9e-5],[14.1,1.7e-6],[14.2,6.1e-5],[14.3,1.9e-4],[14.4,7.8e-6],[14.5,3.9e-5],[14.6,7.8e-4],
            [14.7,2.1e-5],[14.8,1.1e-4],[14.9,3.4e-6],[15.0,2.4e-4],[15.1,5.3e-5],[15.2,1.15e-5],[15.3,4.6e-4],[15.4,3.3e-5],[15.5,1.35e-4],[15.6,1.1e-3],
            [15.7,4.2e-5],[12.75,7.5e-5],[12.85,1.45e-5],[12.95,2.2e-4],[13.05,3.7e-5],[13.15,2.3e-3],[13.25,5.7e-6],[13.35,9.6e-5],[13.45,2.8e-5],[13.55,3.6e-4],
            [13.65,6.6e-5],[13.75,2.7e-6],[13.85,1.45e-4],[13.95,4.6e-5],[14.05,1.15e-3],[14.15,8.0e-5],[14.25,1.9e-5],[14.35,2.1e-4],[14.45,3.6e-5],[14.55,2.7e-3],
            [14.65,6.0e-6],[14.75,1.15e-4],[14.85,3.9e-4],[14.95,6.4e-5],[15.05,1.6e-4],[15.15,2.5e-5],[15.25,5.0e-4],[15.35,7.8e-5],[15.45,1.4e-5],[15.55,2.0e-4],
            [12.72,4.4e-4],[12.92,4.6e-5],[13.12,1.1e-5],[13.32,2.6e-4],[13.52,8.6e-5],[13.72,3.2e-5],[13.92,1.45e-4],[14.12,6.6e-4],[14.32,4.4e-5],[14.52,9.6e-6],
            [14.72,1.7e-4],[14.92,6.3e-5],[15.12,2.0e-5],[15.32,4.0e-4],[15.52,7.0e-5],[15.72,2.8e-4],[12.82,1.3e-4],[13.02,1.8e-5],[13.22,5.8e-4],[13.42,3.7e-5],
            [13.62,1.0e-3],[13.82,9.6e-5],[14.02,2.4e-5],[14.22,1.0e-4],[14.42,1.6e-4],[14.62,5.6e-5],[14.82,3.2e-6],[15.02,1.2e-4],[15.22,4.8e-5],[15.42,1.9e-3],
            [12.88,2.2e-5],[13.28,3.3e-4],[13.68,1.1e-4],[14.08,2.4e-5],[14.48,2.9e-4],[14.88,8.4e-5],[15.28,1.65e-5],[15.68,1.0e-4],[13.48,1.9e-4],[14.28,7.2e-6],
            [15.08,3.5e-5],[13.88,5.2e-5],[14.68,8.2e-4],[12.98,6.8e-5],[15.48,2.6e-4],
            [15.9,1.9e-5],[16.0,1.1e-4],[16.1,6.0e-6],[16.2,4.4e-5],[16.4,3.3e-4],[16.5,1.45e-5],[16.6,7.6e-5],[16.7,2.7e-6],[16.8,3.1e-5],[16.9,9.6e-4],
            [17.0,1.05e-5],[17.1,5.6e-5],[17.2,1.9e-4],[17.4,1.8e-5],[17.5,1.1e-6],[17.6,3.9e-5],[17.7,1.2e-4],[17.8,4.9e-6],[17.9,2.4e-5],[18.0,5.0e-4],
            [18.2,1.3e-5],[18.3,7.0e-5],[18.4,2.2e-6],[18.5,1.5e-4],[18.6,3.3e-5],[18.8,7.2e-6],[18.9,2.9e-4],[19.0,2.1e-5],[19.1,8.6e-5],[19.2,7.0e-4],
            [19.4,2.7e-5],[19.5,4.8e-5],[19.6,9.0e-6],[19.7,1.4e-4],[19.8,2.3e-5],[19.9,1.5e-3],[15.95,3.6e-6],[16.15,6.2e-5],[16.35,1.8e-5],[16.55,2.3e-4],
            [16.75,4.2e-5],[16.95,1.7e-6],[17.15,9.2e-5],[17.35,2.9e-5],[17.55,7.2e-4],[17.75,5.1e-5],[17.95,1.2e-5],[18.15,1.35e-4],[18.35,2.3e-5],[18.55,1.7e-3],
            [18.75,3.8e-6],[18.95,7.3e-5],[19.15,2.5e-4],[19.35,4.1e-5],[19.55,1.0e-4],[19.75,1.6e-5],[19.95,3.2e-4],[16.05,5.0e-5],[16.45,9.0e-6],[16.85,1.3e-4],
            [17.25,2.0e-5],[17.65,4.2e-4],[18.05,6.0e-5],[18.45,1.4e-5],[18.85,1.9e-4],[19.25,3.5e-5],[19.65,6.0e-6],[16.25,2.7e-4],[16.65,3.0e-5],[17.05,8.0e-6],
            [17.45,1.6e-4],[17.85,4.4e-5],[18.25,1.05e-4],[18.65,2.9e-5],[19.05,4.4e-6],[19.45,6.6e-5],[19.85,1.9e-5],[16.3,1.3e-5],[17.0,2.2e-4],[17.6,6.9e-5],
            [18.1,2.2e-5],[18.7,4.4e-4],[19.3,9.6e-5],[16.7,1.6e-4],[17.3,3.8e-5],[18.0,1.5e-5],[18.9,5.2e-5],[19.6,2.4e-4],[16.9,6.5e-5],[18.4,3.7e-5],
            [19.0,1.15e-4],[17.8,8.6e-5],
            [20.1,1.3e-5],[20.3,7.4e-5],[20.5,4.0e-6],[20.7,2.9e-5],[20.9,2.2e-4],[21.1,9.6e-6],[21.3,5.0e-5],[21.5,1.8e-6],[21.7,2.1e-5],[21.9,6.4e-4],
            [22.1,7.0e-6],[22.3,3.7e-5],[22.5,1.25e-4],[22.7,1.2e-5],[22.9,7.0e-7],[23.1,2.6e-5],[23.3,7.8e-5],[23.5,3.2e-6],[23.7,1.6e-5],[23.9,3.3e-4],
            [24.1,8.8e-6],[24.3,4.6e-5],[24.5,1.45e-6],[24.7,1.0e-4],[24.9,2.2e-5],[25.0,4.8e-6],[20.2,1.9e-4],[20.6,1.4e-5],[21.0,5.5e-5],[21.4,4.6e-4],
            [21.8,1.8e-5],[22.2,3.2e-5],[22.6,6.0e-6],[23.0,9.6e-5],[23.4,1.55e-5],[23.8,1.0e-3],[24.2,2.4e-6],[24.6,4.1e-5],[24.9,1.2e-5],[20.4,1.5e-4],
            [20.8,2.8e-5],[21.2,1.1e-6],[21.6,6.4e-5],[22.0,1.9e-5],[22.4,4.8e-4],[22.8,3.4e-5],[23.2,8.0e-6],[23.6,9.0e-5],[24.0,1.5e-5],[24.4,1.1e-3],
            [24.8,2.5e-6],[20.15,4.8e-5],[20.65,1.65e-4],[21.15,2.7e-5],[21.65,6.6e-5],[22.15,1.05e-5],[22.65,2.1e-4],[23.15,3.2e-5],[23.65,5.8e-6],[24.15,8.4e-5],
            [24.65,3.9e-5],[20.35,3.6e-6],[20.95,8.6e-5],[21.55,2.4e-5],[22.05,1.2e-4],[22.55,4.4e-5],[23.05,1.3e-6],[23.55,2.0e-5],[24.05,2.8e-4],[24.55,6.0e-5],
            [21.05,1.75e-5],[22.35,7.0e-5],[23.45,3.0e-4],[24.35,1.9e-5],[20.55,2.5e-5],[21.85,1.0e-5],[23.25,5.1e-5],[24.75,1.6e-4],
            [25.2,9.4e-6],[25.5,5.4e-5],[25.8,2.9e-6],[26.1,2.1e-5],[26.4,1.6e-4],[26.7,7.0e-6],[27.0,3.6e-5],[27.3,1.3e-6],[27.6,1.5e-5],[27.9,4.6e-4],
            [28.2,5.1e-6],[28.5,2.7e-5],[28.8,9.0e-5],[29.1,8.8e-6],[29.4,5.0e-7],[29.7,1.9e-5],[30.0,5.7e-5],[30.3,2.3e-6],[30.6,1.2e-5],[30.9,2.4e-4],
            [31.2,6.4e-6],[31.5,3.3e-5],[25.4,1.05e-6],[25.9,7.3e-5],[26.3,1.6e-5],[26.8,3.5e-6],[27.2,1.4e-4],[27.7,2.4e-5],[28.1,1.0e-5],[28.6,7.4e-4],
            [29.0,4.3e-5],[29.5,1.75e-6],[29.9,1.1e-4],[30.4,2.9e-5],[30.8,4.5e-6],[31.3,7.0e-5],[25.6,3.1e-5],[26.5,1.3e-5],[27.4,2.5e-4],[28.3,1.6e-5],
            [29.2,3.5e-4],[30.1,4.0e-5],[31.0,1.6e-6],[25.3,2.0e-4],[26.2,4.8e-5],[27.1,5.5e-6],[28.0,8.0e-5],[28.9,2.0e-5],[29.8,1.1e-3],[30.7,1.2e-4],
            [31.4,1.4e-5],[26.0,1.1e-5],[26.9,9.5e-5],[27.8,3.9e-5],[28.7,2.0e-6],[29.6,2.7e-5],[30.5,6.2e-6],[25.7,1.9e-5],[27.5,5.8e-5],[29.3,1.0e-5],
            [30.2,2.1e-4],[31.1,4.6e-5],
            [31.8,8.0e-6],[32.2,4.9e-5],[32.6,2.4e-6],[33.0,1.9e-5],[33.4,1.5e-4],[33.8,6.0e-6],[34.2,3.3e-5],[34.6,1.0e-6],[35.0,1.3e-5],[35.4,4.4e-4],
            [35.8,4.3e-6],[36.2,2.4e-5],[36.6,8.0e-5],[37.0,7.5e-6],[37.4,4.0e-7],[37.8,1.7e-5],[38.2,5.2e-5],[38.6,2.0e-6],[39.0,1.05e-5],[39.4,2.2e-4],
            [39.7,5.6e-6],[32.0,2.9e-5],[32.9,1.0e-4],[33.6,1.2e-5],[34.4,3.6e-6],[35.2,6.6e-5],[36.0,1.4e-6],[36.8,1.6e-4],[37.6,3.1e-5],[38.4,1.2e-5],
            [39.2,8.0e-4],[32.4,1.5e-5],[33.2,3.0e-6],[34.0,2.7e-4],[34.8,4.4e-5],[35.6,9.0e-6],[36.4,1.1e-4],[37.2,2.1e-5],[38.0,3.5e-6],[38.8,7.0e-5],
            [39.5,2.6e-5],[33.5,5.8e-5],[35.1,2.6e-6],[36.7,4.0e-5],[38.3,1.6e-4],
            [40.2,8.5e-6],[40.9,5.2e-5],[41.6,2.6e-6],[42.3,2.0e-5],[43.0,1.6e-4],[43.7,6.6e-6],[44.4,3.4e-5],[45.1,1.2e-6],[45.8,1.4e-5],[46.5,4.8e-4],
            [47.2,4.7e-6],[47.9,2.5e-5],[48.6,8.4e-5],[49.3,8.0e-6],[49.9,4.5e-7],[40.6,1.8e-5],[42.0,5.5e-5],[43.4,2.2e-6],[44.8,1.15e-5],[46.2,2.4e-4],
            [47.6,3.6e-5],[49.0,1.1e-4],[41.2,1.2e-5],[43.8,9.5e-4],[45.5,4.0e-5],[47.0,1.6e-6],[48.3,2.2e-5],[44.1,7.0e-5],
            [50.5,1.0e-5],[51.5,6.0e-5],[52.5,3.0e-6],[53.5,2.3e-5],[54.5,1.8e-4],[55.5,7.7e-6],[56.5,3.9e-5],[57.5,1.4e-6],[58.5,1.6e-5],[59.5,5.6e-4],
            [60.5,5.4e-6],[61.5,2.9e-5],[62.5,9.6e-5],[52.0,1.3e-5],[55.0,3.0e-4],[58.0,4.6e-5],
            [64,1.2e-5],[66,7.0e-5],[68,3.5e-6],[70,2.7e-5],[72,2.1e-4],[74,9.0e-6],[75,4.6e-5],[77,1.7e-6],[78,1.9e-5],[65,1.1e-3],
            [80,4.0e-4],[84,2.2e-5],[88,1.0e-4],[91,5.5e-6],[95,1.2e-4],[98,3.0e-5],[86,1.3e-3],
            [105,5.0e-5],[110,3.5e-5],[116,9.0e-5],[122,1.4e-5],[135,1.5e-5],[150,4.0e-4],[165,1.1e-4],
            [3.4,1.6e-2],[4.8,8.5e-3],[6.5,6.0e-3],[9.0,3.3e-3],[12.5,2.0e-3],[3.0,5.5e-3],[5.6,1.2e-2],[7.8,4.4e-3],[10.8,3.9e-3],[15.5,1.6e-3],
            [4.2,2.2e-2],[6.0,9.0e-3],[8.5,2.6e-3],[18.5,1.0e-3],[3.7,1.1e-2],[5.2,6.8e-3],[11.7,2.4e-3],[7.0,7.6e-3],[13.9,2.9e-3],[22.0,7.5e-4],
            [2.9,2.6e-2],[4.5,1.4e-2],[6.3,4.0e-3],[9.7,2.1e-3],[16.8,2.2e-3],[3.2,8.7e-3],[5.9,2.0e-2],[8.1,7.0e-3],[12.0,4.8e-3],[25.0,1.2e-3],
            [4.0,1.0e-2],[7.4,3.0e-3],[10.2,6.2e-3],[14.5,1.3e-3],[5.4,4.6e-3],[9.3,1.05e-2],[19.8,1.8e-3],[6.7,1.5e-2],[11.3,1.5e-3],[30.0,9.0e-4],
            [3.5,3.6e-2],[5.0,2.9e-2],[7.6,1.8e-2],[10.0,1.35e-2],[13.0,9.0e-3],[17.5,5.2e-3],[23.0,3.5e-3],[8.9,2.4e-2],[6.2,3.4e-2],[4.6,4.2e-2],
            [16,2.0e-3],[21,1.1e-3],[27,8.0e-4],[19,4.0e-3],[24,2.2e-3],[33,1.5e-3],[18,7.5e-4],[26,4.5e-3],[30,2.8e-3],[22,5.5e-4],
            [17,1.3e-3],[28,4.0e-4],[35,9.0e-4],[20,3.0e-3],[25,6.0e-4],[40,2.1e-3],[23,1.6e-3],[31,5.8e-3],[45,1.1e-3],[19,5.0e-4],
            [5.7,0.2],[3.8,0.15],[7.1,0.13],[10.3,0.14],[2.6,0.115],[4.5,0.095],[8.8,0.08],[12.5,0.07],[3.2,0.062],[6.3,0.07],
            [9.5,0.055],[14.5,0.045],[5.0,0.048],[18,0.038],[23,0.03],[2.9,0.04],[11,0.035],[7.8,0.039],[16,0.027],[31,0.022],
            [60,0.013],[40,0.016],[4.1,0.075],
            [1.55,7.0e-4],[1.75,1.0e-2],[1.8,2.0e-4],[1.6,4.5e-3],[1.95,1.3e-3],[1.7,6.0e-5],[2.05,2.0e-5],[1.65,2.4e-3],
            [6.1,1.0e-7],[5.8,3.5e-7],[9.6,2.5e-7],[11,1.8e-7],[14,1.5e-7],[19,1.5e-7],[23,2.5e-8],[28,1.8e-7],[40,1.4e-7],[51,5.5e-8],
            [60,1.6e-7],[72,2.4e-7],[33,4.5e-7],[16,3.0e-7],[45,3.2e-7]
        ];

        Chart.defaults.font.family = '"DejaVu Serif", serif';
        Chart.defaults.color = '#000';

        function curve(values) {
            return periods.map((p, i) => ({ x: p, y: values[i] }));
        }

        // matplotlib-like frame: inward ticks on all sides, 10^n labels, boxed legend
        const mplAxes = {
            id: 'mplAxes',
            afterDraw(chart, args, opts) {
                const { ctx, chartArea: a } = chart;
                const xs = chart.scales.x;
                const ys = chart.scales.y;
                ctx.save();
                ctx.strokeStyle = '#000';
                ctx.lineWidth = 1;
                ctx.beginPath();
                for (let e = 0; e <= 4; e++) {
                    for (let k = 1; k <= 9; k++) {
                        const v = k * Math.pow(10, e);
                        if (v > 10000) break;
                        const px = Math.round(xs.getPixelForValue(v)) + 0.5;
                        const len = k === 1 ? 7 : 3.5;
                        ctx.moveTo(px, a.bottom); ctx.lineTo(px, a.bottom - len);
                        ctx.moveTo(px, a.top); ctx.lineTo(px, a.top + len);
                    }
                }
                for (let e = opts.minExp; e <= opts.maxExp; e++) {
                    for (let k = 1; k <= 9; k++) {
                        if (e === opts.maxExp && k > 1) break;
                        const py = Math.round(ys.getPixelForValue(k * Math.pow(10, e))) + 0.5;
                        const len = k === 1 ? 7 : 3.5;
                        ctx.moveTo(a.left, py); ctx.lineTo(a.left + len, py);
                        ctx.moveTo(a.right, py); ctx.lineTo(a.right - len, py);
                    }
                }
                ctx.stroke();

                ctx.lineWidth = 1.3;
                ctx.strokeRect(a.left, a.top, a.right - a.left, a.bottom - a.top);

                // y tick labels with superscript exponents
                ctx.fillStyle = '#000';
                ctx.textAlign = 'left';
                ctx.textBaseline = 'alphabetic';
                for (let e = opts.minExp; e <= opts.maxExp; e++) {
                    const py = ys.getPixelForValue(Math.pow(10, e));
                    const x0 = e < 0 ? 42.5 : 48;
                    ctx.font = '22px "DejaVu Serif"';
                    ctx.fillText('10', x0, py + 8);
                    const w = ctx.measureText('10').width;
                    ctx.font = '14px "DejaVu Serif"';
                    ctx.fillText(String(e), x0 + w + 1, py - 0.5);
                }

                // legend
                const lx = opts.legendX, ly = opts.legendY;
                ctx.fillStyle = '#fff';
                ctx.fillRect(lx, ly, 409, 177);
                ctx.lineWidth = 1;
                ctx.strokeRect(lx + 0.5, ly + 0.5, 409, 177);
                ctx.font = '28px "DejaVu Serif"';
                chart.data.datasets.slice(1).forEach((ds, i) => {
                    const ry = ly + 23.4 + i * 42.2;
                    ctx.strokeStyle = ds.borderColor;
                    ctx.lineWidth = 2;
                    ctx.beginPath();
                    ctx.moveTo(lx + 19, ry);
                    ctx.lineTo(lx + 62, ry);
                    ctx.stroke();
                    ctx.fillStyle = '#000';
                    ctx.fillText(ds.label, lx + 93, ry + 10);
                });
                ctx.restore();
            }
        };

        function makeChart(id, pulsars, curves, yMinExp, yMaxExp, padTop, xAxisHeight, titlePad, legendPos) {
            const lineColors = ['#bfbf00', '#00bfbf', '#008000', '#ff0000'];
            const datasets = [{
                label: 'pulsars',
                data: pulsars.map(p => ({ x: p[0], y: p[1] })),
                pointStyle: 'rect',
                pointRadius: 2.1,
                pointBorderWidth: 0,
                backgroundColor: '#000',
                borderColor: '#000',
                order: 0
            }];
            curves.forEach((c, i) => {
                datasets.push({
                    label: legendLabels[i],
                    data: curve(c),
                    showLine: true,
                    pointRadius: 0,
                    borderWidth: 2,
                    borderColor: lineColors[i],
                    backgroundColor: lineColors[i],
                    tension: 0,
                    order: 1
                });
            });

            return new Chart(document.getElementById(id), {
                type: 'scatter',
                data: { datasets },
                options: {
                    responsive: false,
                    animation: false,
                    events: [],
                    layout: { padding: { top: padTop, right: 45, bottom: 0, left: 0 } },
                    scales: {
                        x: {
                            type: 'logarithmic',
                            min: 1,
                            max: 10000,
                            grid: { display: false },
                            border: { display: false },
                            ticks: {
                                autoSkip: false,
                                maxRotation: 0,
                                minRotation: 0,
                                padding: 0,
                                font: { size: 22 },
                                color: '#000',
                                callback: (v) => {
                                    const d = xDecades.find(t => Math.abs(v - t) < 1e-6 * t);
                                    return d ? String(d) : '';
                                }
                            },
                            title: {
                                display: true,
                                text: 'Pulsar Period (ms)',
                                font: { size: 23 },
                                color: '#000',
                                padding: { top: 0, bottom: titlePad }
                            },
                            afterFit: (s) => { s.height = xAxisHeight; }
                        },
                        y: {
                            type: 'logarithmic',
                            min: Math.pow(10, yMinExp),
                            max: Math.pow(10, yMaxExp),
                            grid: { display: false },
                            border: { display: false },
                            ticks: { display: false },
                            title: {
                                display: true,
                                text: 'Pulsar flux (mJy)',
                                font: { size: 23 },
                                color: '#000',
                                padding: { top: 10, bottom: 0 }
                            },
                            afterFit: (s) => { s.width = 97; }
                        }
                    },
                    plugins: {
                        legend: { display: false },
                        tooltip: { enabled: false },
                        mplAxes: { minExp: yMinExp, maxExp: yMaxExp, legendX: legendPos[0], legendY: legendPos[1] }
                    }
                },
                plugins: [mplAxes]
            });
        }

        makeChart('topChart', topPulsars, [topBates, topJohnston, topMacquart, topSka], -6, 2, 24, 88, 33, [110, 421]);
        makeChart('bottomChart', bottomPulsars, [bottomBates, bottomJohnston, bottomMacquart, bottomSka], -8, 1, 61, 55, 0, [707, 457]);
    </script>
</body>
</html>
